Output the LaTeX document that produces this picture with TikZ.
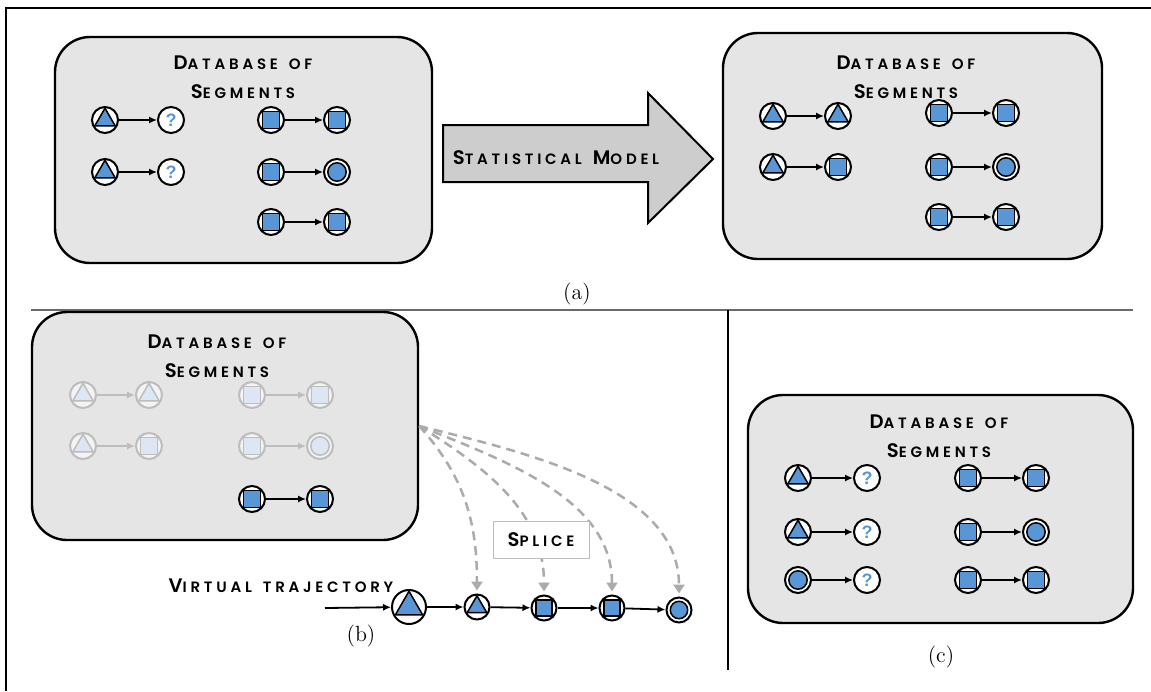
\documentclass[tikz,border=0pt]{standalone}
\usepackage{fontspec}
\usetikzlibrary{arrows.meta}
\newfontfamily\cpf[LetterSpace=25, WordSpace=1.5, UprightFont=* SemiBold, BoldFont=* SemiBold]{Poppins}
\newfontfamily\qf{Liberation Sans}
\definecolor{segblue}{HTML}{5896D6}
\definecolor{boxgray}{HTML}{E5E5E5}
\definecolor{arrowgray}{HTML}{CDCDCD}
\definecolor{dashgray}{HTML}{ABABAB}
\definecolor{fadeline}{HTML}{BDBDBD}
\definecolor{fadefill}{HTML}{DCE7F3}
\definecolor{fadewhite}{HTML}{F3F3F3}
\definecolor{sepgray}{HTML}{6A6A6A}
\newcommand\bigc[1]{{\fontsize{9.8}{11}\selectfont #1}}
\begin{document}
\begin{tikzpicture}[x=0.5pt,y=0.5pt,
 shline/.store in=\shline, shfill/.store in=\shfill, shline=black, shfill=segblue,
 segc/.style={circle, draw=black, fill=white, line width=1pt, inner sep=0pt, minimum size=#1},
 segc/.default=13pt,
 tri/.style={segc=#1, path picture={\draw[shift={(path picture bounding box.center)}, draw=\shline, fill=\shfill, line width=0.75pt, line join=round] (90:{#1/2-0.6pt}) -- (210:{#1/2-0.6pt}) -- (330:{#1/2-0.6pt}) -- cycle;}},
 tri/.default=13pt,
 sq/.style={segc=#1, path picture={\draw[shift={(path picture bounding box.center)}, draw=\shline, fill=\shfill, line width=0.75pt, line join=round] (45:{#1/2-0.6pt}) -- (135:{#1/2-0.6pt}) -- (225:{#1/2-0.6pt}) -- (315:{#1/2-0.6pt}) -- cycle;}},
 sq/.default=13pt,
 dbl/.style={segc=#1, path picture={\draw[shift={(path picture bounding box.center)}, draw=\shline, fill=\shfill, line width=0.75pt] (0,0) circle[radius={#1/2-1.9pt}];}},
 dbl/.default=13pt,
 qn/.style={segc=#1, text=segblue, font=\qf\bfseries\fontsize{9}{9}\selectfont},
 qn/.default=13pt,
 faded/.style={draw=fadeline, fill=fadewhite, shline=fadeline, shfill=fadefill},
 link/.style={-{Latex[length=4pt,width=3.6pt]}, line width=0.9pt},
 fadelink/.style={link, draw=fadeline},
 box/.style={draw=black, fill=boxgray, line width=1.2pt, rounded corners=17.5pt, inner sep=0pt},
 title/.style={font=\cpf\fontsize{7.5}{14.5}\selectfont, align=center, inner sep=0pt},
 splice/.style={draw=dashgray, line width=1.25pt, dash pattern=on 4.5pt off 3pt, -{Triangle[length=4.5pt,width=5.5pt]}, shorten >=1.5pt},
 caption/.style={font=\fontsize{11}{13}\selectfont, inner sep=0pt}
]
\useasboundingbox (0,0) rectangle (1151,-691);
% frame and separators
\draw[line width=0.8pt] (6,-691) -- (6,-8) -- (1151,-8);
\draw[line width=0.6pt, draw=sepgray] (31,-310) -- (1133,-310);
\draw[line width=0.6pt] (728,-310) -- (728,-670);

% ---------- (a) ----------
\node[box, minimum width=188.5pt, minimum height=113pt] (A1) at (243.5,-150) {};
\node[title] (A1t) at (243,-77) {\bigc{D}ATABASE OF\\\bigc{S}EGMENTS};
\node[tri] (a1) at (105,-120) {};
\node[qn]  (a2) at (171,-120) {?};
\node[tri] (a3) at (105,-172) {};
\node[qn]  (a4) at (171,-172) {?};
\node[sq]  (a5) at (271,-120) {};
\node[sq]  (a6) at (337,-120) {};
\node[sq]  (a7) at (271,-172) {};
\node[dbl] (a8) at (337,-172) {};
\node[sq]  (a9) at (271,-222) {};
\node[sq]  (a10) at (337,-222) {};
\draw[link] (a1) -- (a2);
\draw[link] (a3) -- (a4);
\draw[link] (a5) -- (a6);
\draw[link] (a7) -- (a8);
\draw[link] (a9) -- (a10);

\draw[line width=1pt, fill=arrowgray, line join=miter] (443,-125) -- (648,-125) -- (648,-93) -- (713,-159) -- (648,-223) -- (648,-182) -- (443,-182) -- cycle;
\node[title] (sm) at (556,-158) {\bigc{S}TATISTICAL \bigc{M}ODEL};

\node[box, minimum width=189.5pt, minimum height=113pt] (A2) at (912.5,-146) {};
\node[title] (A2t) at (906,-77) {\bigc{D}ATABASE OF\\\bigc{S}EGMENTS};
\node[tri] (b1) at (773,-116) {};
\node[tri] (b2) at (838,-116) {};
\node[tri] (b3) at (773,-167) {};
\node[sq]  (b4) at (838,-167) {};
\node[sq]  (b5) at (939,-113) {};
\node[sq]  (b6) at (1006,-113) {};
\node[sq]  (b7) at (939,-167) {};
\node[dbl] (b8) at (1006,-167) {};
\node[sq]  (b9) at (939,-217) {};
\node[sq]  (b10) at (1006,-217) {};
\draw[link] (b1) -- (b2);
\draw[link] (b3) -- (b4);
\draw[link] (b5) -- (b6);
\draw[link] (b7) -- (b8);
\draw[link] (b9) -- (b10);

\node[caption] (capa) at (577,-294) {(a)};

% ---------- (b) ----------
\node[box, minimum width=193pt, minimum height=114pt] (B) at (225,-426) {};
\node[title] (Bt) at (217,-356) {\bigc{D}ATABASE OF\\\bigc{S}EGMENTS};
\node[tri, faded] (c1) at (83,-395) {};
\node[tri, faded] (c2) at (149,-395) {};
\node[tri, faded] (c3) at (83,-446) {};
\node[sq, faded]  (c4) at (149,-446) {};
\node[sq, faded]  (c5) at (252,-395) {};
\node[sq, faded]  (c6) at (320,-395) {};
\node[sq, faded]  (c7) at (252,-446) {};
\node[dbl, faded] (c8) at (320,-446) {};
\node[sq]  (c9) at (252,-499) {};
\node[sq]  (c10) at (320,-499) {};
\draw[fadelink] (c1) -- (c2);
\draw[fadelink] (c3) -- (c4);
\draw[fadelink] (c5) -- (c6);
\draw[fadelink] (c7) -- (c8);
\draw[link] (c9) -- (c10);

\node[title] (vt) at (281,-586) {\bigc{V}IRTUAL TRAJECTORY};
\coordinate (vin) at (325,-608);
\node[tri=17pt] (t0) at (409,-607) {};
\node[tri=12.5pt] (t1) at (477,-607) {};
\node[sq=12.5pt]  (t2) at (544,-608) {};
\node[sq=12.5pt]  (t3) at (612,-608) {};
\node[dbl=12.5pt] (t4) at (679,-610) {};
\draw[link] (vin) -- (t0);
\draw[link] (t0) -- (t1);
\draw[link] (t1) -- (t2);
\draw[link] (t2) -- (t3);
\draw[link] (t3) -- (t4);

\draw[splice] (B.east) to[out=-48,in=90] (t1.north);
\draw[splice] (B.east) to[out=-32,in=90] (t2.north);
\draw[splice] (B.east) to[out=-22,in=90,looseness=0.95] (t3.north);
\draw[splice] (B.east) to[out=-14,in=90,looseness=0.9] (t4.north);
\node[draw=fadeline, fill=white, line width=0.5pt, minimum width=48pt, minimum height=18.5pt, inner sep=0pt, font=\cpf\fontsize{7.5}{9}\selectfont] (spl) at (541,-540) {\bigc{S}PLICE};

\node[caption] (capb) at (361,-636) {(b)};

% ---------- (c) ----------
\node[box, minimum width=192.5pt, minimum height=114pt] (C) at (940.5,-509) {};
\node[title] (Ct) at (939,-436) {\bigc{D}ATABASE OF\\\bigc{S}EGMENTS};
\node[tri] (d1) at (798,-478) {};
\node[qn]  (d2) at (867,-478) {?};
\node[tri] (d3) at (798,-532) {};
\node[qn]  (d4) at (867,-532) {?};
\node[dbl] (d5) at (798,-580) {};
\node[qn]  (d6) at (867,-580) {?};
\node[sq]  (d7) at (968,-478) {};
\node[sq]  (d8) at (1036,-478) {};
\node[sq]  (d9) at (968,-532) {};
\node[dbl] (d10) at (1036,-532) {};
\node[sq]  (d11) at (968,-580) {};
\node[sq]  (d12) at (1036,-580) {};
\draw[link] (d1) -- (d2);
\draw[link] (d3) -- (d4);
\draw[link] (d5) -- (d6);
\draw[link] (d7) -- (d8);
\draw[link] (d9) -- (d10);
\draw[link] (d11) -- (d12);

\node[caption] (capc) at (941,-657) {(c)};
\end{tikzpicture}
\end{document}
